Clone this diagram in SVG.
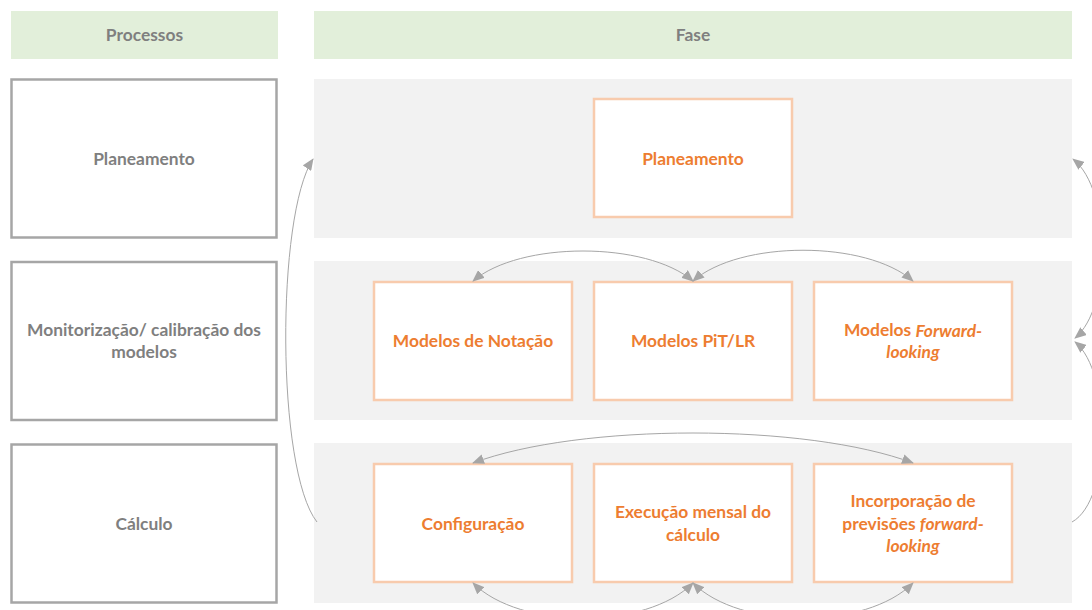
<svg xmlns="http://www.w3.org/2000/svg" width="1092" height="610" viewBox="0 0 1092 610">
<style>
.hdr{fill:#E2EFDA}
.band{fill:#F2F2F2}
.proc{fill:#FFFFFF;stroke:#A6A6A6;stroke-width:2.5}
.phase{fill:#FFFFFF;stroke:#F8CBAD;stroke-width:2.5}
text{font-family:Lato,"Open Sans","Liberation Sans",sans-serif;font-weight:bold;font-size:17.4px;text-anchor:middle;dominant-baseline:central}
.g{fill:#7F7F7F}
.o{fill:#ED7D31}
.i{font-style:italic}
.c{fill:none;stroke:#A6A6A6;stroke-width:1}
</style>
<defs>
<marker id="ah" markerUnits="userSpaceOnUse" markerWidth="12" markerHeight="10" refX="11" refY="5" orient="auto-start-reverse" viewBox="0 0 12 10">
<path d="M0,0 L12,5 L0,10 Z" fill="#A6A6A6"/>
</marker>
</defs>
<rect x="0" y="0" width="1092" height="610" fill="#FFFFFF"/>
<g id="header-processos"><rect class="hdr" x="11" y="11" width="267" height="48"/><text class="g" x="144.5" y="34.5">Processos</text></g>
<g id="header-fase"><rect class="hdr" x="314" y="11" width="758" height="48"/><text class="g" x="693" y="34.5">Fase</text></g>
<g id="band-1"><rect class="band" x="314" y="79" width="758" height="159"/></g>
<g id="band-2"><rect class="band" x="314" y="261" width="758" height="159"/></g>
<g id="band-3"><rect class="band" x="314" y="443" width="758" height="160"/></g>
<g id="proc-planeamento"><rect class="proc" x="11.5" y="79.5" width="265" height="158"/><text class="g" x="144" y="158.5">Planeamento</text></g>
<g id="proc-monitorizacao"><rect class="proc" x="11.5" y="262" width="265" height="158"/><text class="g" x="144" y="329.5">Monitorização/ calibração dos</text><text class="g" x="144" y="351.5">modelos</text></g>
<g id="proc-calculo"><rect class="proc" x="11.5" y="444.5" width="265" height="158"/><text class="g" x="144" y="523.5">Cálculo</text></g>
<g id="fase-planeamento"><rect class="phase" x="594" y="99" width="198" height="118"/><text class="o" x="693" y="158.5">Planeamento</text></g>
<g id="fase-notacao"><rect class="phase" x="374" y="282" width="198" height="118"/><text class="o" x="473" y="340.5">Modelos de Notação</text></g>
<g id="fase-pit"><rect class="phase" x="594" y="282" width="198" height="118"/><text class="o" x="693" y="340.5">Modelos PiT/LR</text></g>
<g id="fase-forward"><rect class="phase" x="814" y="282" width="198" height="118"/><text class="o" x="913" y="329.5">Modelos <tspan class="i">Forward-</tspan></text><text class="o i" x="913" y="351.5">looking</text></g>
<g id="fase-configuracao"><rect class="phase" x="374" y="464" width="198" height="118"/><text class="o" x="473" y="523.5">Configuração</text></g>
<g id="fase-execucao"><rect class="phase" x="594" y="464" width="198" height="118"/><text class="o" x="693" y="511.5">Execução mensal do</text><text class="o" x="693" y="534.5">cálculo</text></g>
<g id="fase-incorporacao"><rect class="phase" x="814" y="464" width="198" height="118"/><text class="o" x="913" y="500.5">Incorporação de</text><text class="o" x="913" y="523">previsões <tspan class="i">forward-</tspan></text><text class="o i" x="913" y="545.5">looking</text></g>
<g id="connectors">
<path class="c" d="M473,281 C520,241 646,241 693,281" marker-start="url(#ah)" marker-end="url(#ah)"/>
<path class="c" d="M693,281 C740,240 866,240 913,281" marker-start="url(#ah)" marker-end="url(#ah)"/>
<path class="c" d="M473,463 C580,423 806,423 913,463" marker-start="url(#ah)" marker-end="url(#ah)"/>
<path class="c" d="M473,583 C520,630 646,630 693,583" marker-start="url(#ah)" marker-end="url(#ah)"/>
<path class="c" d="M693,583 C740,630 866,630 913,583" marker-start="url(#ah)" marker-end="url(#ah)"/>
<path class="c" d="M317,522 C276,470 276,215 313,159" marker-end="url(#ah)"/>
<path class="c" d="M1072,522 C1112,500 1112,372 1075,342" marker-end="url(#ah)"/>
<path class="c" d="M1075,338 C1112,308 1112,190 1073,159" marker-start="url(#ah)" marker-end="url(#ah)"/>
</g>
</svg>
